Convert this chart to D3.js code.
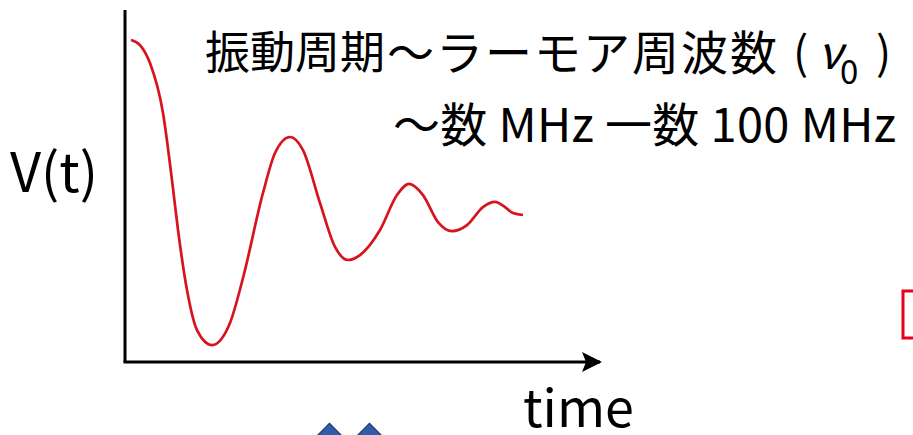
<!DOCTYPE html>
<html>
<head>
<meta charset="utf-8">
<script src="https://cdn.jsdelivr.net/npm/d3@7"></script>
<style>
  html, body { margin: 0; padding: 0; background: #fff; }
  svg { display: block; }
</style>
</head>
<body>
<div id="chart"></div>
<script>
// signal (time in arbitrary units, V normalised)
var timeValues = [0.126, 0.316, 0.526, 0.8, 0.989, 1.116, 1.305, 1.516, 1.832, 2.21, 2.484,
  2.905, 3.158, 3.474, 3.747, 4.105, 4.421, 4.695, 4.947, 5.368, 5.726, 5.979, 6.274,
  6.589, 6.884, 7.2, 7.537, 7.789, 8.0, 8.168, 8.379];
var signalValues = [1.187, 1.153, 1.033, 0.70, 0.253, -0.08, -0.48, -0.747, -0.847, -0.70, -0.40,
  0.167, 0.433, 0.54, 0.453, 0.10, -0.193, -0.28, -0.247, -0.08, 0.153, 0.227, 0.153,
  -0.027, -0.087, -0.047, 0.073, 0.107, 0.073, 0.033, 0.02];

// axis extents
var timeAxisEnd = 10;
var vAxisTop = 1.387, vAxisBottom = -0.96;

// labels
var titleWords = ["振動周期", "〜ラーモア周波数"];
var titleLine2 = "〜数 MHz 一数 100 MHz";
var yLabel = "V(t)";
var xLabel = "time";
var markerPositions = [4.305, 5.147];

var width = 913, height = 435;

var svg = d3.select("#chart")
    .append("svg")
    .attr("width", width)
    .attr("height", height);

var x = d3.scaleLinear().domain([0, 10]).range([125, 600]);
var y = d3.scaleLinear().domain([-1, 1]).range([368, 68]);

// arrow head
svg.append("defs").append("marker")
    .attr("id", "arrow")
    .attr("viewBox", "0 0 20 20")
    .attr("refX", 18).attr("refY", 10)
    .attr("markerWidth", 20).attr("markerHeight", 20)
    .attr("markerUnits", "userSpaceOnUse")
    .attr("orient", "auto")
    .append("path")
    .attr("d", "M0,0 L20,10 L0,20 L4,10 Z")
    .attr("fill", "#000");

// y axis
svg.append("line")
    .attr("x1", x(0)).attr("x2", x(0))
    .attr("y1", y(vAxisTop)).attr("y2", y(vAxisBottom))
    .attr("stroke", "#000").attr("stroke-width", 3);

// x axis
svg.append("line")
    .attr("x1", x(0) - 1.5).attr("x2", x(timeAxisEnd))
    .attr("y1", y(vAxisBottom)).attr("y2", y(vAxisBottom))
    .attr("stroke", "#000").attr("stroke-width", 3)
    .attr("marker-end", "url(#arrow)");

// signal
var data = timeValues.map(function(t, i) { return {t: t, v: signalValues[i]}; });
var line = d3.line()
    .x(function(d) { return x(d.t); })
    .y(function(d) { return y(d.v); })
    .curve(d3.curveMonotoneX);

svg.append("path")
    .datum(data)
    .attr("d", line)
    .attr("fill", "none")
    .attr("stroke", "#d7141e")
    .attr("stroke-width", 2.7);

// texts
var jp = "'Noto Sans CJK JP', 'Noto Sans', sans-serif";

svg.append("text")
    .attr("x", 205).attr("y", 69)
    .style("font-family", jp).style("font-size", "45px")
    .text(titleWords[0]);
svg.append("text")
    .attr("x", 387).attr("y", 70)
    .attr("textLength", 390).attr("lengthAdjust", "spacing")
    .style("font-family", jp).style("font-size", "47px")
    .text(titleWords[1]);

svg.append("text").attr("x", 793).attr("y", 69)
    .style("font-family", jp).style("font-size", "45px").text("(");
svg.append("text").attr("x", 818).attr("y", 69)
    .style("font-family", jp).style("font-size", "45px").style("font-style", "italic").text("ν");
svg.append("text").attr("x", 840).attr("y", 84)
    .style("font-family", jp).style("font-size", "33px").text("0");
svg.append("text").attr("x", 876).attr("y", 69)
    .style("font-family", jp).style("font-size", "45px").text(")");

svg.append("text")
    .attr("x", 393).attr("y", 142)
    .attr("textLength", 503).attr("lengthAdjust", "spacing")
    .style("font-family", jp).style("font-size", "47px")
    .text(titleLine2);

svg.append("text")
    .attr("x", 10).attr("y", 192)
    .style("font-family", jp).style("font-size", "54px")
    .text(yLabel);

svg.append("text")
    .attr("x", 523).attr("y", 427)
    .style("font-family", jp).style("font-size", "52px")
    .text(xLabel);

// blue markers below the axis
svg.selectAll(".mk")
    .data(markerPositions)
    .enter()
    .append("path")
    .attr("class", "mk")
    .attr("transform", function(d) { return "translate(" + x(d) + ",436) rotate(45)"; })
    .attr("d", "M-9,-9 L9,-9 L9,9 L-9,9 Z")
    .attr("fill", "#2f5cab")
    .attr("stroke", "#1b3366")
    .attr("stroke-width", 1);

// red frame at the right edge
svg.append("rect")
    .attr("x", 903).attr("y", 291)
    .attr("width", 40).attr("height", 47)
    .attr("fill", "none")
    .attr("stroke", "#e8001c")
    .attr("stroke-width", 3);
</script>
</body>
</html>
